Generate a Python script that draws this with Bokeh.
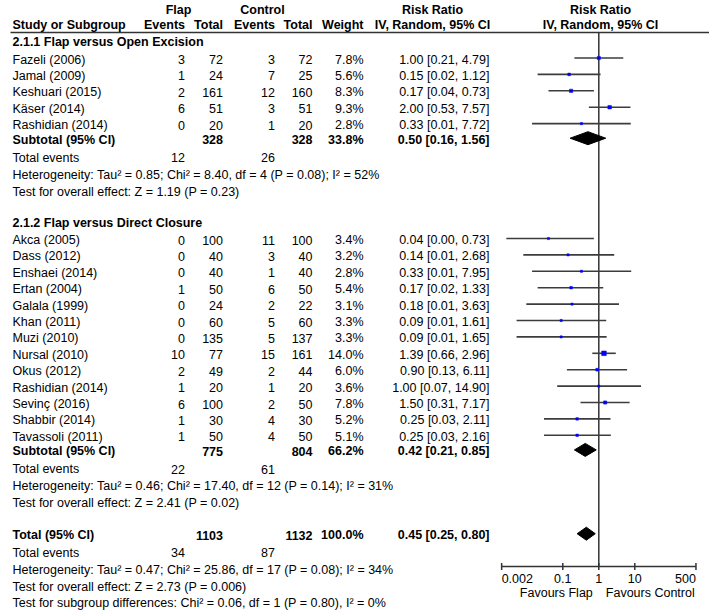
from bokeh.plotting import figure
from bokeh.models import Range1d, LogScale
from bokeh.embed import file_html
from bokeh.resources import INLINE
from bokeh.core.properties import value

# ---------------- data ----------------
col_headers_top = ["Flap", "Control", "Risk Ratio", "Risk Ratio"]
col_headers = ["Study or Subgroup", "Events", "Total", "Events", "Total", "Weight",
               "IV, Random, 95% CI", "IV, Random, 95% CI"]

g1_title = "2.1.1 Flap versus Open Excision"
g1_studies = ["Fazeli (2006)", "Jamal (2009)", "Keshuari (2015)", "Käser (2014)", "Rashidian (2014)"]
g1_flap_events = [3, 1, 2, 6, 0]
g1_flap_total = [72, 24, 161, 51, 20]
g1_ctrl_events = [3, 7, 12, 3, 1]
g1_ctrl_total = [72, 25, 160, 51, 20]
g1_weight = [7.8, 5.6, 8.3, 9.3, 2.8]
g1_rr = [1.00, 0.15, 0.17, 2.00, 0.33]
g1_lo = [0.21, 0.02, 0.04, 0.53, 0.014]
g1_hi = [4.79, 1.12, 0.73, 7.57, 7.72]
g1_sub_total = [328, 328]
g1_sub_weight = 33.8
g1_sub_rr = [0.50, 0.16, 1.56]
g1_events = [12, 26]
g1_het = "Heterogeneity: Tau² = 0.85; Chi² = 8.40, df = 4 (P = 0.08); I² = 52%"
g1_test = "Test for overall effect: Z = 1.19 (P = 0.23)"

g2_title = "2.1.2 Flap versus Direct Closure"
g2_studies = ["Akca (2005)", "Dass (2012)", "Enshaei (2014)", "Ertan (2004)", "Galala (1999)",
              "Khan (2011)", "Muzi (2010)", "Nursal (2010)", "Okus (2012)", "Rashidian (2014)",
              "Sevinç (2016)", "Shabbir (2014)", "Tavassoli (2011)"]
g2_flap_events = [0, 0, 0, 1, 0, 0, 0, 10, 2, 1, 6, 1, 1]
g2_flap_total = [100, 40, 40, 50, 24, 60, 135, 77, 49, 20, 100, 30, 50]
g2_ctrl_events = [11, 3, 1, 6, 2, 5, 5, 15, 2, 1, 2, 4, 4]
g2_ctrl_total = [100, 40, 40, 50, 22, 60, 137, 161, 44, 20, 50, 30, 50]
g2_weight = [3.4, 3.2, 2.8, 5.4, 3.1, 3.3, 3.3, 14.0, 6.0, 3.6, 7.8, 5.2, 5.1]
g2_rr = [0.04, 0.14, 0.33, 0.17, 0.18, 0.09, 0.09, 1.39, 0.90, 1.00, 1.50, 0.25, 0.25]
g2_lo = [0.0027, 0.008, 0.014, 0.02, 0.0097, 0.0052, 0.0052, 0.66, 0.13, 0.07, 0.31, 0.03, 0.03]
g2_hi = [0.73, 2.68, 7.95, 1.33, 3.63, 1.61, 1.65, 2.96, 6.11, 14.90, 7.17, 2.11, 2.16]
g2_sub_total = [775, 804]
g2_sub_weight = 66.2
g2_sub_rr = [0.42, 0.21, 0.85]
g2_events = [22, 61]
g2_het = "Heterogeneity: Tau² = 0.46; Chi² = 17.40, df = 12 (P = 0.14); I² = 31%"
g2_test = "Test for overall effect: Z = 2.41 (P = 0.02)"

tot_total = [1103, 1132]
tot_weight = 100.0
tot_rr = [0.45, 0.25, 0.80]
tot_events = [34, 87]
tot_het = "Heterogeneity: Tau² = 0.47; Chi² = 25.86, df = 17 (P = 0.08); I² = 34%"
tot_test = "Test for overall effect: Z = 2.73 (P = 0.006)"
tot_subgroup = "Test for subgroup differences: Chi² = 0.06, df = 1 (P = 0.80), I² = 0%"

tick_values = [0.002, 0.1, 1, 10, 500]
tick_labels = ["0.002", "0.1", "1", "10", "500"]
favours = ["Favours Flap", "Favours Control"]

# ---------------- layout ----------------
FONT = value("Liberation Sans")
FS = "12.5px"
INK = "#333333"
W, H = 709, 610
X_ONE = 598.3          # page x of RR = 1
PX_DECADE = 36.0       # pixels per decade

p = figure(width=W, height=H, x_range=Range1d(0, W), y_range=Range1d(H, 0),
           output_backend="svg", toolbar_location=None, min_border=0,
           x_axis_location=None, y_axis_location=None)
p.grid.visible = False
p.outline_line_color = None
p.background_fill_color = "white"
p.extra_x_ranges = {"rr": Range1d(10 ** ((0 - X_ONE) / PX_DECADE), 10 ** ((W - X_ONE) / PX_DECADE))}
p.extra_x_scales = {"rr": LogScale()}

texts = {}


def put(x, y, s, align="left", bold=False):
    d = texts.setdefault((align, bold), dict(x=[], y=[], text=[]))
    d["x"].append(x)
    d["y"].append(y)
    d["text"].append(str(s))


def ci_text(r, lo, hi):
    return f"{r:.2f} [{lo:.2f}, {hi:.2f}]"


C_NAME, C_FE, C_FT, C_CE, C_CT, C_W, C_CI = 12, 184.5, 222.5, 274.5, 312, 363, 489
C_FLAP, C_CTRL, C_RRH, C_PLOT = 178, 262, 432, 600

# headers
Y_H1 = 9
put(C_FLAP, Y_H1, col_headers_top[0], "center", True)
put(C_CTRL, Y_H1, col_headers_top[1], "center", True)
put(C_RRH, Y_H1, col_headers_top[2], "center", True)
put(C_PLOT, Y_H1, col_headers_top[3], "center", True)
Y_H2 = 24.5
put(C_NAME, Y_H2, col_headers[0], "left", True)
put(C_FE, Y_H2, col_headers[1], "right", True)
put(C_FT, Y_H2, col_headers[2], "right", True)
put(C_CE, Y_H2, col_headers[3], "right", True)
put(C_CT, Y_H2, col_headers[4], "right", True)
put(C_W, Y_H2, col_headers[5], "right", True)
put(C_RRH, Y_H2, col_headers[6], "center", True)
put(C_PLOT, Y_H2, col_headers[7], "center", True)
Y_RULE = 32
p.segment(x0=[10], x1=[709], y0=[Y_RULE], y1=[Y_RULE], line_color=INK, line_width=1.5)

ci_x0, ci_x1, ci_y, sq_x, sq_y, sq_s = [], [], [], [], [], []
dia_xs, dia_ys = [], []
MARK_DY = -1.5
STEP = 16.4


def diamond(r, lo, hi, y):
    dia_xs.append([lo, r, hi, r])
    dia_ys.append([y, y - 6.5, y, y + 6.5])


def group(y_title, title, studies, fe, ft, ce, ct, w, rr, lo, hi,
          sub_tot, sub_w, sub_rr, events, het, test):
    put(C_NAME, y_title, title, "left", True)
    y = y_title + 17.5
    for i, s in enumerate(studies):
        put(C_NAME, y, s)
        put(C_FE, y, fe[i], "right")
        put(C_FT, y, ft[i], "right")
        put(C_CE, y, ce[i], "right")
        put(C_CT, y, ct[i], "right")
        put(C_W, y, f"{w[i]:.1f}%", "right")
        put(C_CI, y, ci_text(rr[i], lo[i], hi[i]), "right")
        ci_x0.append(lo[i]); ci_x1.append(hi[i]); ci_y.append(y + MARK_DY)
        sq_x.append(rr[i]); sq_y.append(y + MARK_DY); sq_s.append(max(2.2, 1.3 + 0.24 * w[i]))
        y += STEP
    y = y - STEP + 14.6
    put(C_NAME, y, "Subtotal (95% CI)", "left", True)
    put(C_FT, y, sub_tot[0], "right", True)
    put(C_CT, y, sub_tot[1], "right", True)
    put(C_W, y, f"{sub_w:.1f}%", "right", True)
    put(C_CI, y, ci_text(*sub_rr), "right", True)
    diamond(sub_rr[0], sub_rr[1], sub_rr[2], y + MARK_DY)
    y += 18
    put(C_NAME, y, "Total events")
    put(C_FE, y, events[0], "right")
    put(C_CE, y, events[1], "right")
    y += 16.8
    put(C_NAME, y, het)
    y += 17
    put(C_NAME, y, test)
    return y


y_end = group(41.5, g1_title, g1_studies, g1_flap_events, g1_flap_total, g1_ctrl_events,
              g1_ctrl_total, g1_weight, g1_rr, g1_lo, g1_hi, g1_sub_total, g1_sub_weight,
              g1_sub_rr, g1_events, g1_het, g1_test)
y_end = group(y_end + 31, g2_title, g2_studies, g2_flap_events, g2_flap_total, g2_ctrl_events,
              g2_ctrl_total, g2_weight, g2_rr, g2_lo, g2_hi, g2_sub_total, g2_sub_weight,
              g2_sub_rr, g2_events, g2_het, g2_test)

y = y_end + 32
put(C_NAME, y, "Total (95% CI)", "left", True)
put(C_FT, y, tot_total[0], "right", True)
put(C_CT, y, tot_total[1], "right", True)
put(C_W, y, f"{tot_weight:.1f}%", "right", True)
put(C_CI, y, ci_text(*tot_rr), "right", True)
diamond(tot_rr[0], tot_rr[1], tot_rr[2], y + MARK_DY)
y += 17.5
put(C_NAME, y, "Total events")
put(C_FE, y, tot_events[0], "right")
put(C_CE, y, tot_events[1], "right")
y += 17
put(C_NAME, y, tot_het)
y += 16.8
put(C_NAME, y, tot_test)
y += 16.5
put(C_NAME, y, tot_subgroup)

# ---------------- forest marks ----------------
Y_AXIS = 566
p.segment(x0=[1], x1=[1], y0=[Y_RULE], y1=[Y_AXIS], x_range_name="rr",
          line_color=INK, line_width=1.5)
p.segment(x0=ci_x0, x1=ci_x1, y0=ci_y, y1=ci_y, x_range_name="rr",
          line_color="#3c3c3c", line_width=1.6)
p.scatter(x=sq_x, y=sq_y, size=sq_s, marker="square", x_range_name="rr",
          fill_color="#0000ff", line_color="#0000ff", line_width=0.5)
p.patches(xs=dia_xs, ys=dia_ys, x_range_name="rr", fill_color="black", line_color="black")

# axis of the plot
p.segment(x0=[tick_values[0]], x1=[tick_values[-1]], y0=[Y_AXIS], y1=[Y_AXIS],
          x_range_name="rr", line_color=INK, line_width=1.5)
p.segment(x0=tick_values, x1=tick_values, y0=[Y_AXIS - 3.5] * len(tick_values),
          y1=[Y_AXIS + 3.5] * len(tick_values), x_range_name="rr", line_color=INK, line_width=1.5)
aligns = ["left"] + ["center"] * (len(tick_values) - 2) + ["right"]
for tv, tl, al in zip(tick_values, tick_labels, aligns):
    p.text(x=[tv], y=[Y_AXIS + 12], text=[tl], x_range_name="rr", text_align=al,
           text_baseline="middle", text_font=FONT, text_font_size=FS, text_color="black")
p.text(x=[1], y=[Y_AXIS + 26], text=[favours[0]], x_range_name="rr", x_offset=-6,
       text_align="right", text_baseline="middle", text_font=FONT, text_font_size=FS,
       text_color="black")
p.text(x=[1], y=[Y_AXIS + 26], text=[favours[1]], x_range_name="rr", x_offset=7,
       text_align="left", text_baseline="middle", text_font=FONT, text_font_size=FS,
       text_color="black")

# ---------------- table text ----------------
for (align, bold), d in texts.items():
    p.text(x=d["x"], y=d["y"], text=d["text"], text_align=align, text_baseline="middle",
           text_font=FONT, text_font_size=FS, text_font_style="bold" if bold else "normal",
           text_color="black")

open("out.html", "w").write(file_html(p, INLINE))
